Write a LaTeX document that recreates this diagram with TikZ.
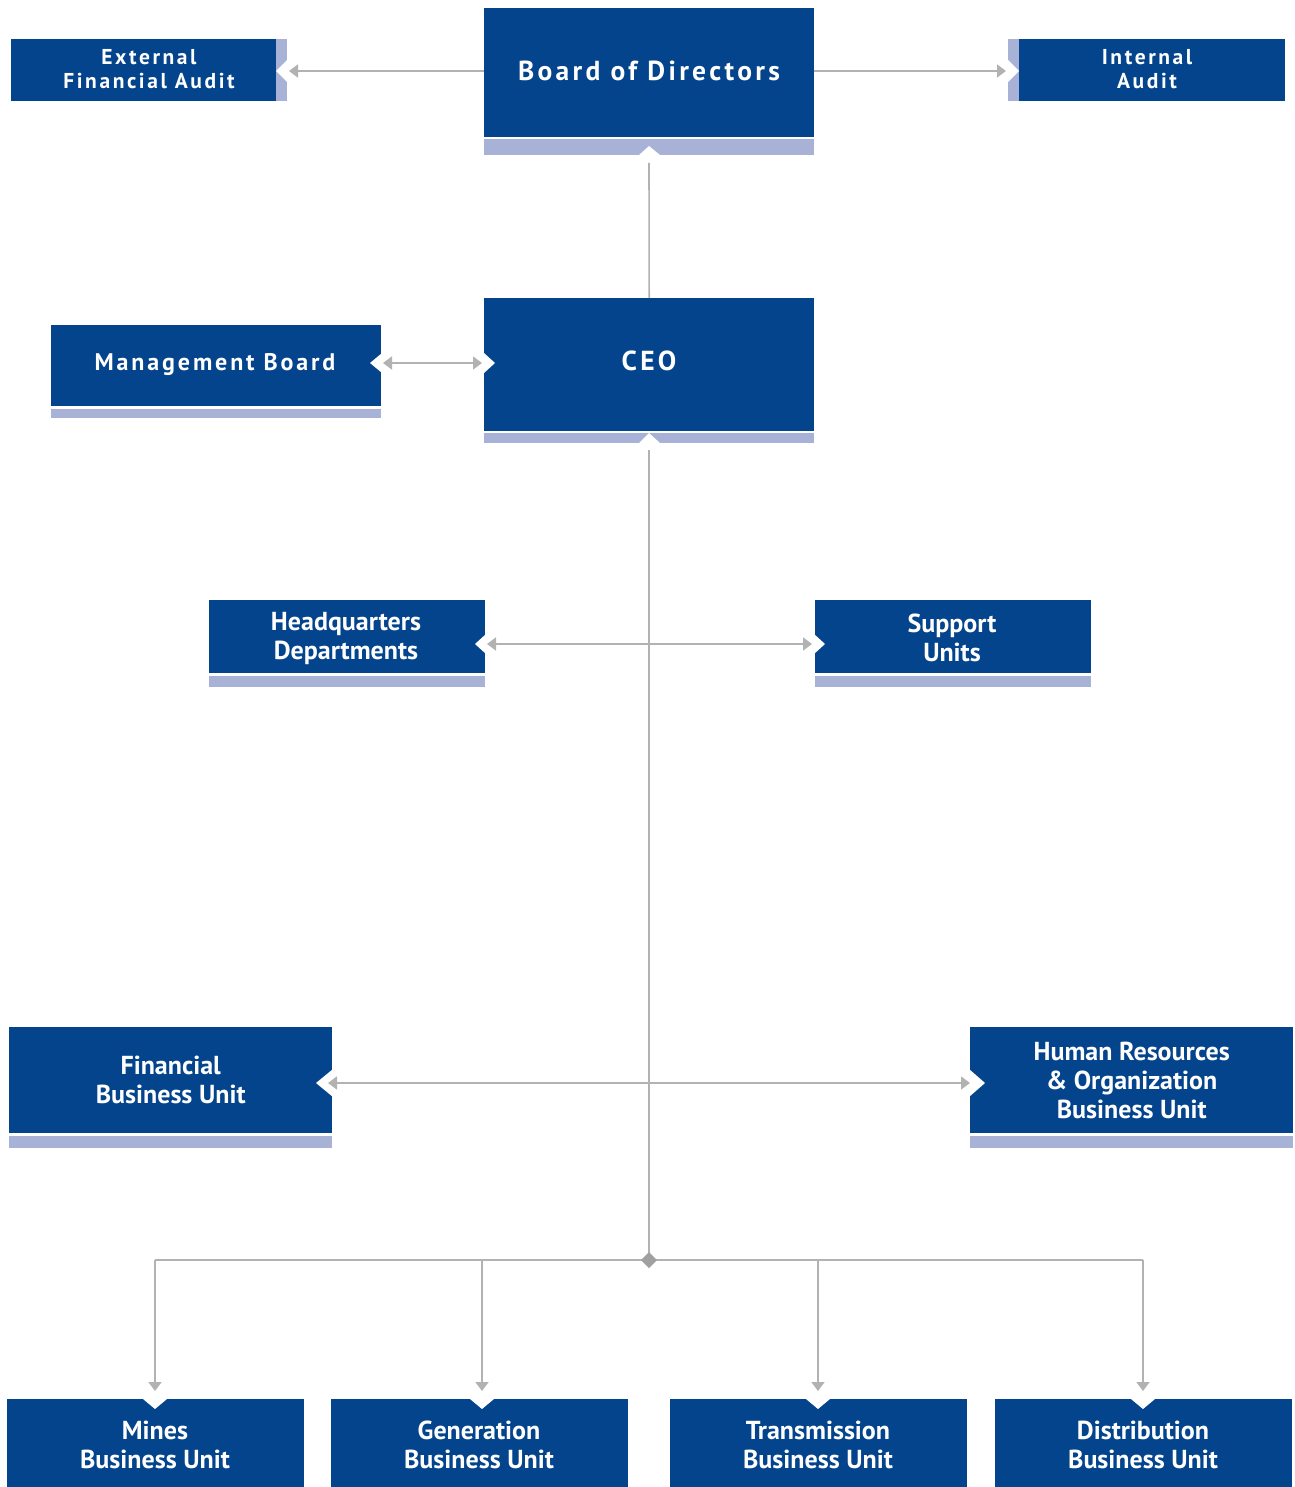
\documentclass[tikz,border=0pt]{standalone}
\usepackage{fontspec}
\setmainfont{PT Sans}
\newfontfamily\spacedfont[LetterSpace=12]{PT Sans}
\newfontfamily\plainfont{PT Sans}
\usetikzlibrary{arrows.meta}
\definecolor{cblue}{HTML}{03448C}
\definecolor{cstrip}{HTML}{A8B1D6}
\definecolor{cgray}{HTML}{B2B2B2}
\tikzset{
  orgbox/.style={fill=cblue, text=white, inner sep=0pt, anchor=north west, align=center, draw=none},
  boxtext/.style={text=white, inner sep=0pt, align=center},
  stripbar/.style={fill=cstrip, draw=none},
  notch/.style={fill=white, draw=none},
  conn/.style={draw=cgray, line width=1.6pt},
  tipend/.style={-{Triangle[width=13pt,length=9pt]}},
  tipboth/.style={{Triangle[width=13pt,length=9pt]}-{Triangle[width=13pt,length=9pt]}},
  spacedtxt/.style={font=\spacedfont\bfseries\fontsize{24}{24}\selectfont},
  bigtxt/.style={font=\spacedfont\bfseries\fontsize{27.5}{28}\selectfont},
  smalltxt/.style={font=\spacedfont\bfseries\fontsize{21.5}{24}\selectfont},
  unittxt/.style={font=\plainfont\bfseries\fontsize{26}{29}\selectfont},
}
\begin{document}
\begin{tikzpicture}[x=1pt,y=-1pt]
\useasboundingbox (0,0) rectangle (1294,1487);
\fill[white] (0,0) rectangle (1294,1487);

% ---------- Board of Directors ----------
\node[orgbox, minimum width=330pt, minimum height=129pt] (bod) at (484,8) {};
\node[boxtext, bigtxt] (bodT) at (649,71) {Board of Directors};
\fill[stripbar] (484,139) rectangle (814,155);
\fill[notch] (639,155) -- (649,146) -- (660,155) -- cycle;
\coordinate (bodS) at (649,163);

% ---------- External Financial Audit ----------
\node[orgbox, minimum width=276pt, minimum height=62pt] (efa) at (11,39) {};
\node[boxtext, smalltxt] (efaT) at (149,69) {External\\Financial Audit};
\fill[stripbar] (276,39) rectangle (287,101);
\fill[notch] (287,60) -- (276,71) -- (287,82) -- cycle;
\coordinate (efaE) at (289,71);

% ---------- Internal Audit ----------
\node[orgbox, minimum width=277pt, minimum height=62pt] (ia) at (1008,39) {};
\node[boxtext, smalltxt] (iaT) at (1147,69) {Internal\\Audit};
\fill[stripbar] (1008,39) rectangle (1019,101);
\fill[notch] (1008,60) -- (1019,71) -- (1008,82) -- cycle;
\coordinate (iaW) at (1006,71);

% ---------- CEO ----------
\node[orgbox, minimum width=330pt, minimum height=133pt] (ceo) at (484,298) {};
\node[boxtext, bigtxt] (ceoT) at (649,361) {CEO};
\fill[stripbar] (484,433) rectangle (814,443);
\fill[notch] (639,443) -- (649,433) -- (660,443) -- cycle;
\fill[notch] (484,353) -- (495,363) -- (484,373) -- cycle;
\coordinate (ceoS) at (649,450);
\coordinate (ceoW) at (482,363);

% ---------- Management Board ----------
\node[orgbox, minimum width=330pt, minimum height=81pt] (mb) at (51,325) {};
\node[boxtext, spacedtxt] (mbT) at (215,365) {Management Board};
\fill[stripbar] (51,409) rectangle (381,418);
\fill[notch] (382,353) -- (370,363) -- (382,373) -- cycle;
\coordinate (mbE) at (383,363);

% ---------- Headquarters / Support ----------
\node[orgbox, minimum width=276pt, minimum height=73pt] (hq) at (209,600) {};
\node[boxtext, unittxt] (hqT) at (346,638) {Headquarters\\Departments};
\fill[stripbar] (209,676) rectangle (485,687);
\fill[notch] (486,634) -- (475,644) -- (486,654) -- cycle;
\coordinate (hqE) at (487,644);

\node[orgbox, minimum width=276pt, minimum height=73pt] (su) at (815,600) {};
\node[boxtext, unittxt] (suT) at (952,638) {Support\\Units};
\fill[stripbar] (815,676) rectangle (1091,687);
\fill[notch] (814,634) -- (825,644) -- (814,654) -- cycle;
\coordinate (suW) at (812,644);
\coordinate (midHQ) at (649,644);

% ---------- Financial / HR ----------
\node[orgbox, unittxt, minimum width=323pt, minimum height=106pt] (fin) at (9,1027) {Financial\\Business Unit};
\fill[stripbar] (9,1136) rectangle (332,1148);
\fill[notch] (333,1069) -- (316,1083) -- (333,1097) -- cycle;
\coordinate (finE) at (328,1083);

\node[orgbox, unittxt, minimum width=323pt, minimum height=106pt] (hr) at (970,1027) {Human Resources\\\& Organization\\Business Unit};
\fill[stripbar] (970,1136) rectangle (1293,1148);
\fill[notch] (969,1069) -- (985,1083) -- (969,1097) -- cycle;
\coordinate (hrW) at (970,1083);
\coordinate (midFin) at (649,1083);

% ---------- Bottom units ----------
\node[orgbox, minimum width=297pt, minimum height=88pt] (mines) at (7,1399) {};
\node[orgbox, minimum width=297pt, minimum height=88pt] (gen) at (331,1399) {};
\node[orgbox, minimum width=297pt, minimum height=88pt] (trans) at (670,1399) {};
\node[orgbox, minimum width=297pt, minimum height=88pt] (dist) at (995,1399) {};
\node[boxtext, unittxt] (minesT) at (155,1445) {Mines\\Business Unit};
\node[boxtext, unittxt] (genT) at (479,1445) {Generation\\Business Unit};
\node[boxtext, unittxt] (transT) at (818,1445) {Transmission\\Business Unit};
\node[boxtext, unittxt] (distT) at (1143,1445) {Distribution\\Business Unit};
\foreach \cx in {155,482,818,1143}{
  \fill[notch] (\cx-12,1399) -- (\cx,1409) -- (\cx+12,1399) -- cycle;
}
\coordinate (hub) at (649,1260);
\coordinate (tMines) at (155,1391);
\coordinate (tGen) at (482,1391);
\coordinate (tTrans) at (818,1391);
\coordinate (tDist) at (1143,1391);

% ---------- Connectors ----------
\draw[conn, tipend] (bod.west |- efaE) -- (efaE);
\draw[conn, tipend] (bod.east |- iaW) -- (iaW);
\draw[conn] (bodS) -- (ceo.north);
\draw[conn, tipboth] (mbE) -- (ceoW);
\draw[conn] (ceoS) -- (hub);
\draw[conn, tipend] (midHQ) -- (hqE);
\draw[conn, tipend] (midHQ) -- (suW);
\draw[conn, tipend] (midFin) -- (finE);
\draw[conn, tipend] (midFin) -- (hrW);
\draw[conn] (tMines |- hub) -- (tDist |- hub);
\draw[conn, tipend] (tMines |- hub) -- (tMines);
\draw[conn, tipend] (tGen |- hub) -- (tGen);
\draw[conn, tipend] (tTrans |- hub) -- (tTrans);
\draw[conn, tipend] (tDist |- hub) -- (tDist);
\fill[cgray!90!black] (hub) +(0,-8) -- +(8,0) -- +(0,8) -- +(-8,0) -- cycle;
\end{tikzpicture}
\end{document}
